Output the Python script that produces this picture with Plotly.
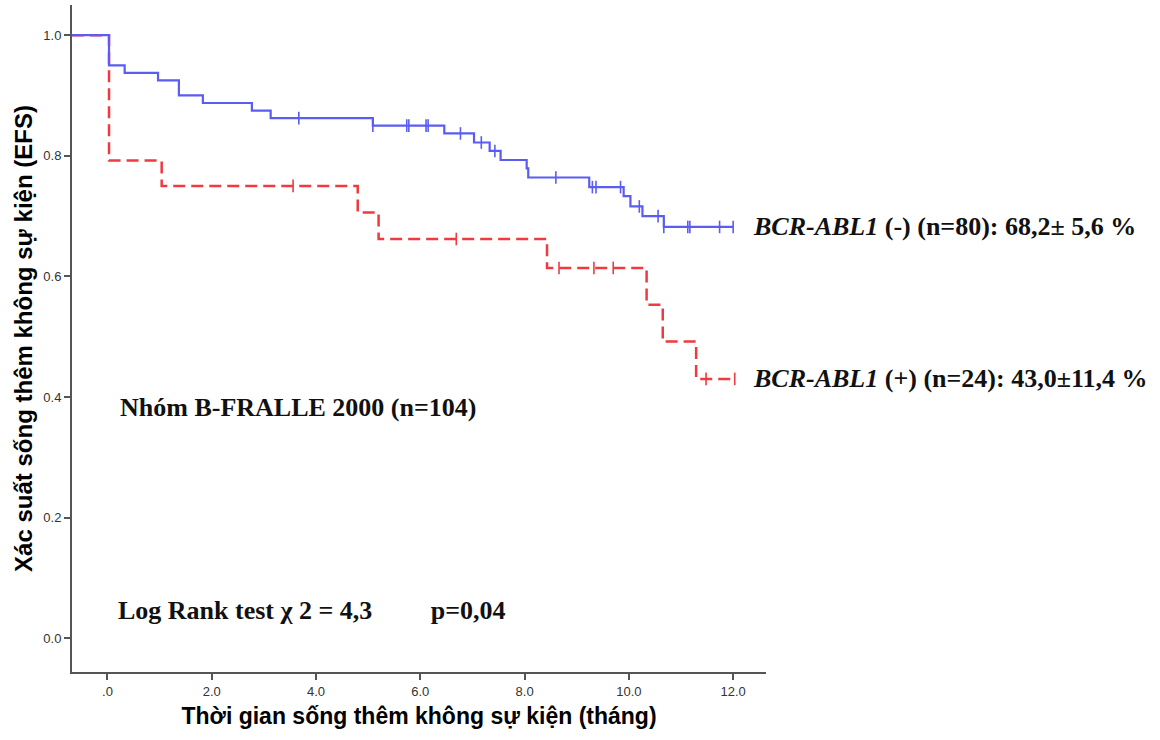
import numpy as np
import plotly.graph_objects as go

# ---- data (months, survival probability) ----
X_MIN, X_MAX = -0.68, 12.63
Y_MIN, Y_MAX = -0.056, 1.05

neg_event_times = [0.03, 0.33, 0.97, 1.37, 1.83, 2.77, 3.13, 5.09, 6.46, 7.03, 7.33,
                   7.54, 8.04, 8.07, 9.24, 9.90, 10.03, 10.26, 10.67]
neg_levels = [0.950, 0.9375, 0.925, 0.900, 0.8875, 0.875, 0.8625, 0.850, 0.837, 0.822,
              0.808, 0.793, 0.779, 0.764, 0.748, 0.733, 0.716, 0.700, 0.682]
neg_censor_times = [3.67, 5.09, 5.74, 5.78, 6.11, 6.15, 6.77, 7.17, 7.43, 8.60, 9.30,
                    9.37, 9.84, 10.20, 10.56, 10.67, 11.13, 11.17, 11.74, 12.00]
neg_end = 12.00

pos_event_times = [0.03, 1.04, 4.80, 5.20, 8.43, 10.34, 10.65, 11.29]
pos_levels = [0.792, 0.750, 0.706, 0.662, 0.614, 0.553, 0.492, 0.430]
pos_censor_times = [3.56, 6.69, 8.66, 9.33, 9.70, 11.48, 12.03]
pos_end = 12.03

x_tickvals = [0, 2, 4, 6, 8, 10, 12]
x_ticktext = [".0", "2.0", "4.0", "6.0", "8.0", "10.0", "12.0"]
y_tickvals = [0.0, 0.2, 0.4, 0.6, 0.8, 1.0]
y_ticktext = ["0.0", "0.2", "0.4", "0.6", "0.8", "1.0"]

label_neg = "<b><i>BCR-ABL1</i> (-) (n=80): 68,2± 5,6 %</b>"
label_pos = "<b><i>BCR-ABL1</i> (+) (n=24): 43,0±11,4 %</b>"
label_group = "<b>Nhóm B-FRALLE 2000 (n=104)</b>"
label_test = "<b>Log Rank test χ 2 = 4,3" + "\u00a0" * 9 + "p=0,04</b>"
x_title = "<b>Thời gian sống thêm không sự kiện (tháng)</b>"
y_title = "<b>Xác suất sống thêm không sự kiện (EFS)</b>"

BLUE = "#5a5cf2"
RED = "#ef3a3f"


def step_xy(times, levels, end):
    xs = [X_MIN] + list(times) + [end]
    ys = [1.0] + list(levels) + [levels[-1]]
    return xs, ys


def level_at(times, levels, t):
    idx = np.searchsorted(np.array(times), t, side="right") - 1
    return 1.0 if idx < 0 else levels[idx]


fig = go.Figure()

for times, levels, end, ctimes, color, dash, width in [
    (pos_event_times, pos_levels, pos_end, pos_censor_times, RED, "12px,6px", 2.5),
    (neg_event_times, neg_levels, neg_end, neg_censor_times, BLUE, "solid", 2.2),
]:
    xs, ys = step_xy(times, levels, end)
    fig.add_trace(go.Scatter(x=xs, y=ys, mode="lines",
                             line=dict(color=color, width=width, dash=dash, shape="hv"),
                             hoverinfo="skip", showlegend=False))
    cy = [level_at(times, levels, t) for t in ctimes]
    fig.add_trace(go.Scatter(x=ctimes, y=cy, mode="markers",
                             marker=dict(symbol="line-ns", size=9,
                                         line=dict(color=color, width=1.6)),
                             hoverinfo="skip", showlegend=False))

serif = "Liberation Serif"
ann_font = dict(family=serif, size=26, color="#111111")
fig.add_annotation(x=12.35, y=neg_levels[-1], xref="x", yref="y", text=label_neg,
                   showarrow=False, xanchor="left", yanchor="middle", font=ann_font)
fig.add_annotation(x=12.35, y=pos_levels[-1], xref="x", yref="y", text=label_pos,
                   showarrow=False, xanchor="left", yanchor="middle", font=ann_font)
fig.add_annotation(x=0.2, y=0.382, xref="x", yref="y", text=label_group,
                   showarrow=False, xanchor="left", yanchor="middle", font=ann_font)
fig.add_annotation(x=0.16, y=0.046, xref="x", yref="y", text=label_test,
                   showarrow=False, xanchor="left", yanchor="middle", font=ann_font)

axis_common = dict(showline=True, linecolor="#555555", linewidth=2, ticks="outside",
                   ticklen=6, tickwidth=1.5, tickcolor="#555555", showgrid=False,
                   zeroline=False,
                   tickfont=dict(family="Liberation Sans", size=13, color="#333333"))

fig.update_xaxes(range=[X_MIN, X_MAX], tickvals=x_tickvals, ticktext=x_ticktext,
                 title=dict(text=x_title, standoff=10,
                            font=dict(family="Liberation Sans", size=23, color="#000")),
                 **axis_common)
fig.update_yaxes(range=[Y_MIN, Y_MAX], tickvals=y_tickvals, ticktext=y_ticktext,
                 title=dict(text=y_title, standoff=4,
                            font=dict(family="Liberation Sans", size=24, color="#000")),
                 **axis_common)

fig.update_layout(width=1160, height=740, plot_bgcolor="white", paper_bgcolor="white",
                  margin=dict(l=72, r=394, t=5, b=68, autoexpand=False))

fig.write_html("out.html", config={"displayModeBar": False},
               post_script="document.body.style.margin='0';document.body.style.overflow='hidden';")
